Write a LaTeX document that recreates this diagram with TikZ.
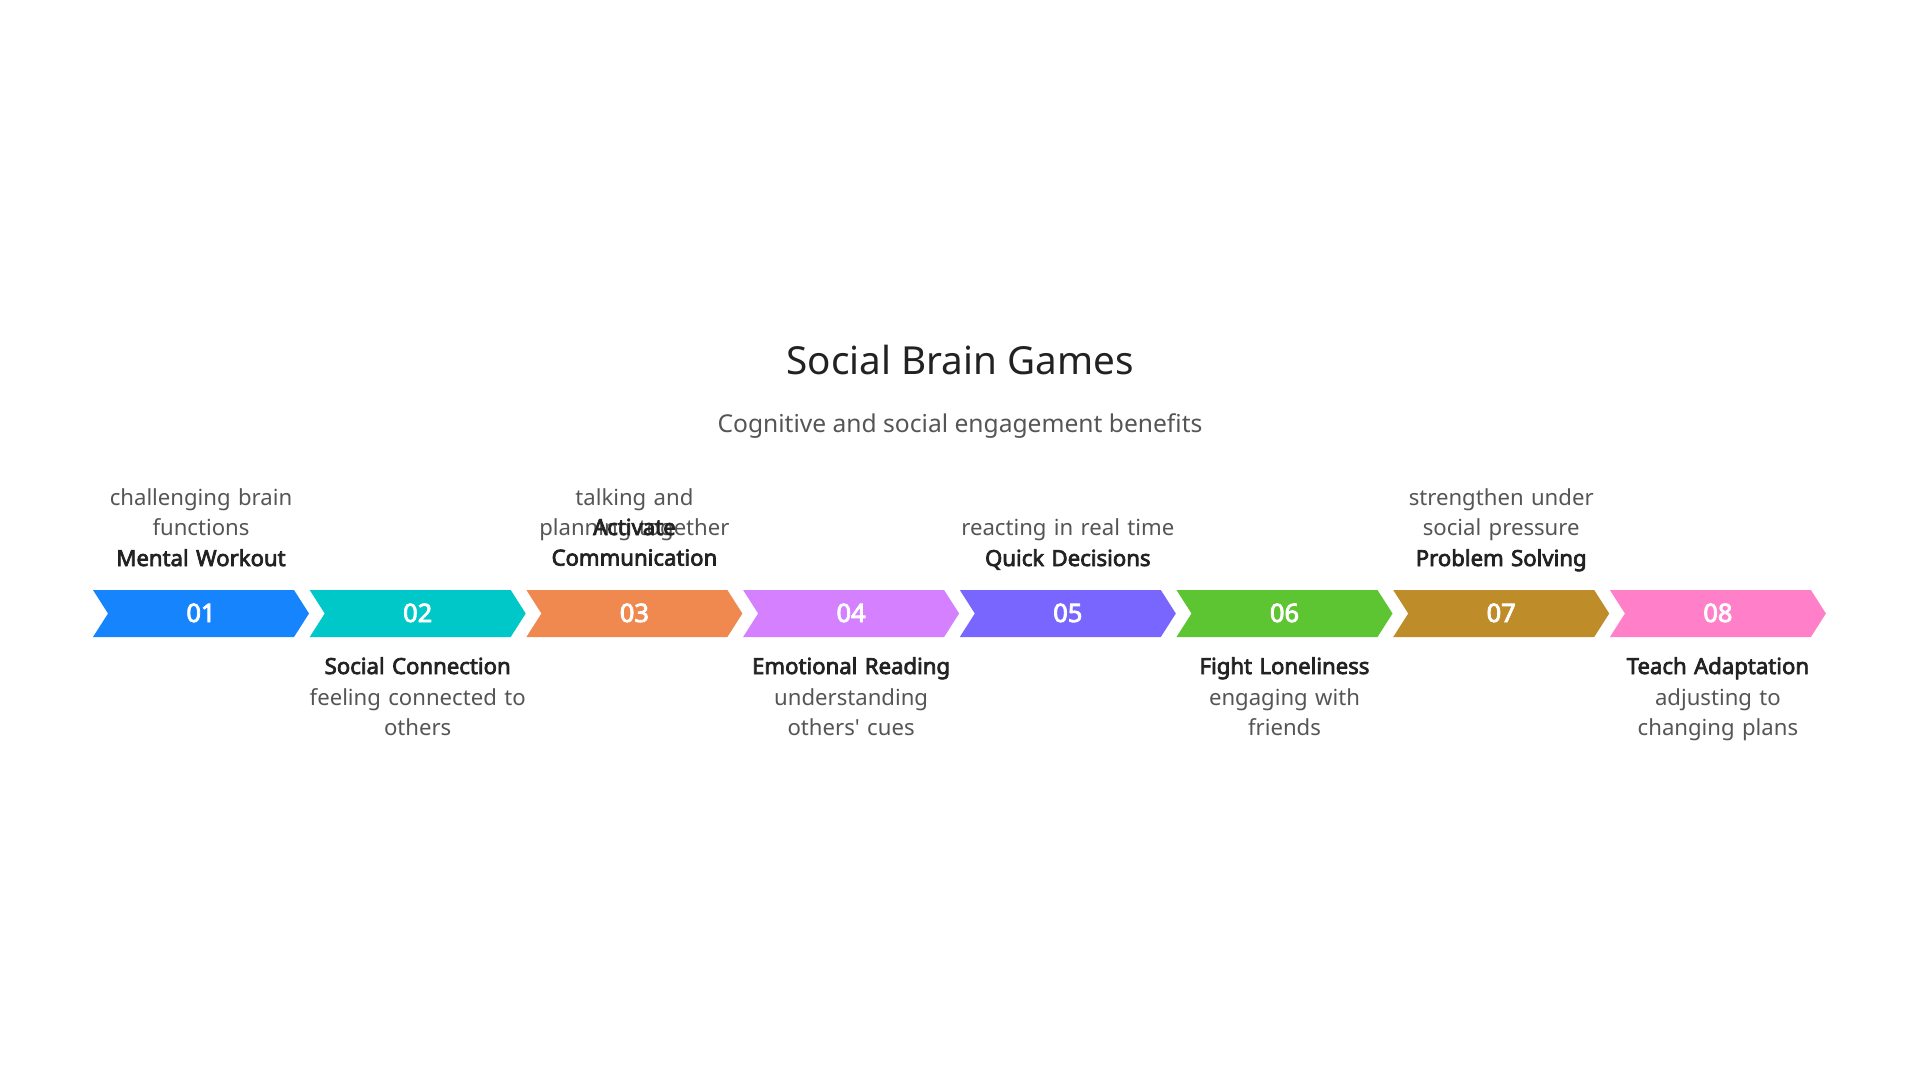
\documentclass[tikz,border=0pt]{standalone}
\usepackage{fontspec}
\newfontfamily\notosans{Noto Sans}[BoldFont={Noto Sans},BoldFeatures={FakeBold=3.2}]
\usetikzlibrary{positioning}
\definecolor{cA}{HTML}{1684FC}
\definecolor{cB}{HTML}{00C8C8}
\definecolor{cC}{HTML}{F0894F}
\definecolor{cD}{HTML}{D580FF}
\definecolor{cE}{HTML}{7866FF}
\definecolor{cF}{HTML}{5CC531}
\definecolor{cG}{HTML}{BF8C2A}
\definecolor{cH}{HTML}{FF80C8}
\definecolor{headgray}{HTML}{222222}
\definecolor{descgray}{HTML}{555555}
\tikzset{ttl/.style={anchor=base,text=headgray,font=\notosans\fontsize{22}{26}\selectfont}}
\tikzset{subttl/.style={anchor=base,text=descgray,font=\notosans\fontsize{14}{17}\selectfont}}
\tikzset{numtxt/.style={anchor=base,text=white,font=\notosans\bfseries\fontsize{14.5}{17}\selectfont}}
\tikzset{headtxt/.style={anchor=base,text=headgray,text width=148pt,align=center,font=\notosans\bfseries\fontsize{12.6}{17.4}\selectfont}}
\tikzset{desctxt/.style={anchor=base,text=descgray,text width=148pt,align=center,font=\notosans\fontsize{12.6}{17.4}\selectfont}}

\begin{document}
\begin{tikzpicture}[x=0.02cm,y=-0.02cm,inner sep=0pt]
\useasboundingbox (0,0) rectangle (1920,1080);
\node [ttl] at (960,374) (title) {Social Brain Games};
\node [subttl] at (960,432) (subtitle) {Cognitive and social engagement benefits};

% chevrons
\foreach \i/\col in {1/cA,2/cB,3/cC,4/cD,5/cE,6/cF,7/cG,8/cH}{
	\pgfmathsetmacro\xl{93+216.7*(\i-1)}
	\fill [\col] (\xl,590) -- ++(201,0) -- ++(15,23.5) -- ++(-15,23.5) -- ++(-201,0) -- ++(15,-23.5) -- cycle;
	\node [numtxt] at (\xl+108,622) (n\i) {0\i};
}

% texts above
\node [desctxt] at (201,505) (desc1) {challenging brain\\functions};
\node [headtxt] at (201,566) (head1) {Mental Workout};
\node [desctxt] at (634.4,505) (desc3) {talking and\\planning together};
\node [headtxt] at (634.4,535) (head3) {Activate\\Communication};
\node [desctxt] at (1067.8,535) (desc5) {reacting in real time};
\node [headtxt] at (1067.8,566) (head5) {Quick Decisions};
\node [desctxt] at (1501.2,505) (desc7) {strengthen under\\social pressure};
\node [headtxt] at (1501.2,566) (head7) {Problem Solving};

% texts below
\node [headtxt] at (417.7,674) (head2) {Social Connection};
\node [desctxt] at (417.7,705) (desc2) {feeling connected to\\others};
\node [headtxt] at (851.1,674) (head4) {Emotional Reading};
\node [desctxt] at (851.1,705) (desc4) {understanding\\others' cues};
\node [headtxt] at (1284.5,674) (head6) {Fight Loneliness};
\node [desctxt] at (1284.5,705) (desc6) {engaging with\\friends};
\node [headtxt] at (1717.9,674) (head8) {Teach Adaptation};
\node [desctxt] at (1717.9,705) (desc8) {adjusting to\\changing plans};
\end{tikzpicture}
\end{document}
